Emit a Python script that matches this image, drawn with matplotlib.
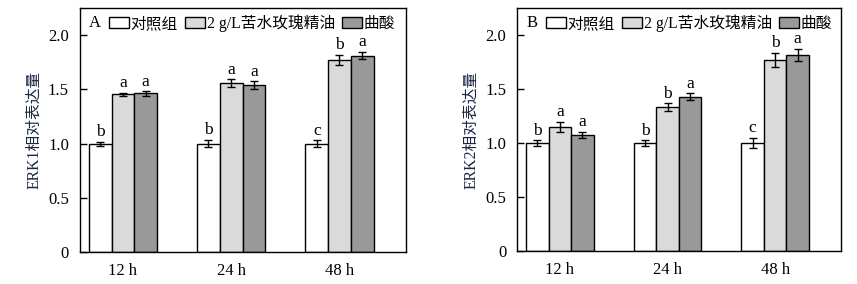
import numpy as np
import matplotlib.pyplot as plt

plt.rcParams['font.family'] = ['Liberation Serif', 'Noto Sans CJK SC']
plt.rcParams['font.size'] = 12

times = ['12 h', '24 h', '48 h']
groups = ['对照组', '2 g/L苦水玫瑰精油', '曲酸']
colors = ['white', '#dadada', '#999999']

# ERK1 (panel A)
erk1_mean = [[1.00, 1.00, 1.00],
             [1.455, 1.555, 1.770],
             [1.462, 1.538, 1.812]]
erk1_err = [[0.018, 0.035, 0.030],
            [0.014, 0.036, 0.048],
            [0.020, 0.036, 0.036]]
erk1_sig = [['b', 'b', 'c'],
            ['a', 'a', 'b'],
            ['a', 'a', 'a']]

# ERK2 (panel B)
erk2_mean = [[1.00, 1.00, 1.00],
             [1.147, 1.333, 1.768],
             [1.073, 1.427, 1.812]]
erk2_err = [[0.025, 0.024, 0.048],
            [0.048, 0.034, 0.066],
            [0.028, 0.034, 0.058]]
erk2_sig = [['b', 'b', 'c'],
            ['a', 'b', 'b'],
            ['a', 'a', 'a']]

fig = plt.figure(figsize=(8.57, 2.84), dpi=100)
ax1 = fig.add_axes([0.0934, 0.1127, 0.380, 0.859])
ax2 = fig.add_axes([0.6036, 0.1162, 0.3777, 0.856])

w = 0.21
x = np.arange(len(times))


def draw_panel(ax, mean, err, sig, tag, ylabel):
    for j in range(3):
        pos = x + (j - 1) * w
        ax.bar(pos, mean[j], width=w, color=colors[j], edgecolor='black',
               linewidth=1, label=groups[j], zorder=2)
        ax.errorbar(pos, mean[j], yerr=err[j], fmt='none', ecolor='black',
                    elinewidth=1, capsize=3, capthick=1, zorder=3)
        for k in range(len(times)):
            ax.text(pos[k], mean[j][k] + err[j][k] + 0.015, sig[j][k],
                    ha='center', va='bottom', fontsize=12.5)
    ax.set_xlim(-0.396, 2.612)
    ax.set_ylim(0, 2.25)
    ax.set_yticks([0, 0.5, 1.0, 1.5, 2.0])
    ax.set_yticklabels(['0', '0.5', '1.0', '1.5', '2.0'])
    ax.set_xticks(x)
    ax.set_xticklabels(times)
    ax.tick_params(axis='y', direction='in', length=5, width=1, pad=8)
    ax.tick_params(axis='x', length=0, pad=8)
    for s in ax.spines.values():
        s.set_linewidth(1)
    ax.set_ylabel(ylabel, color='#1c2646', labelpad=4, fontsize=11.3)
    ax.text(0.027, 0.937, tag, transform=ax.transAxes, ha='left', va='center')
    ax.legend(loc='center left', bbox_to_anchor=(0.088, 0.937), ncol=3,
              frameon=False, borderpad=0, borderaxespad=0, fontsize=11.3,
              handlelength=1.27, handleheight=0.64, handletextpad=0.12,
              columnspacing=0.45)


draw_panel(ax1, erk1_mean, erk1_err, erk1_sig, 'A', 'ERK1相对表达量')
draw_panel(ax2, erk2_mean, erk2_err, erk2_sig, 'B', 'ERK2相对表达量')

fig.savefig('out.png', dpi=100)
